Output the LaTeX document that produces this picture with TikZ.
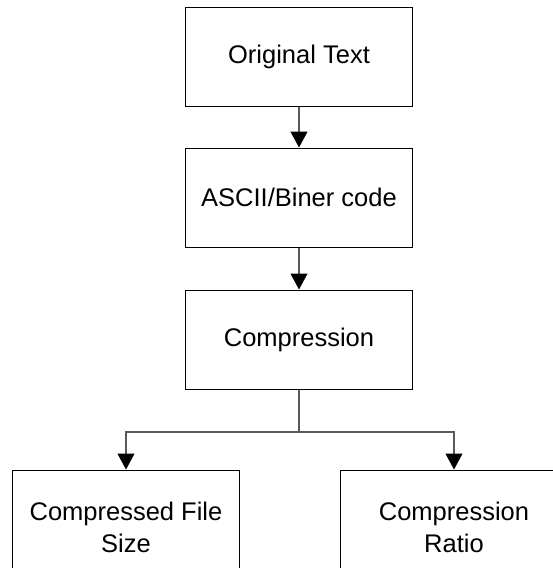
\documentclass[tikz,border=0pt]{standalone}
\usepackage{fontspec}
\setmainfont{Liberation Sans}
\usetikzlibrary{arrows.meta}
\begin{document}
\begin{tikzpicture}[x=1pt,y=-1pt,
  stepbox/.style={draw=black, line width=1pt, minimum width=227pt,
    minimum height=99pt, align=center, inner sep=0pt,
    font=\fontsize{25.5}{32}\selectfont},
  leafbox/.style={stepbox, minimum height=114pt},
  conn/.style={draw=black!65, line width=1.2pt},
  flow/.style={conn, -{Triangle[width=17pt,length=16pt,black]}}]
  \useasboundingbox (0,0) rectangle (553,568);

  % main chain of processing steps
  \node[stepbox] (orig) at (299,56.5) {Original Text};
  \node[stepbox] (code) at (299,197.5) {ASCII/Biner code};
  \node[stepbox] (comp) at (299,339.5) {Compression};

  % results of the compression
  \node[leafbox] (size)  at (126,527) {Compressed File\\Size};
  \node[leafbox] (ratio) at (454,527) {Compression\\Ratio};

  \coordinate (split) at (299,432);

  \draw[flow] (orig) -- (code);
  \draw[flow] (code) -- (comp);
  \draw[conn] (comp) -- (split);
  \draw[flow] (split) -| (size);
  \draw[flow] (split) -| (ratio);
\end{tikzpicture}
\end{document}
